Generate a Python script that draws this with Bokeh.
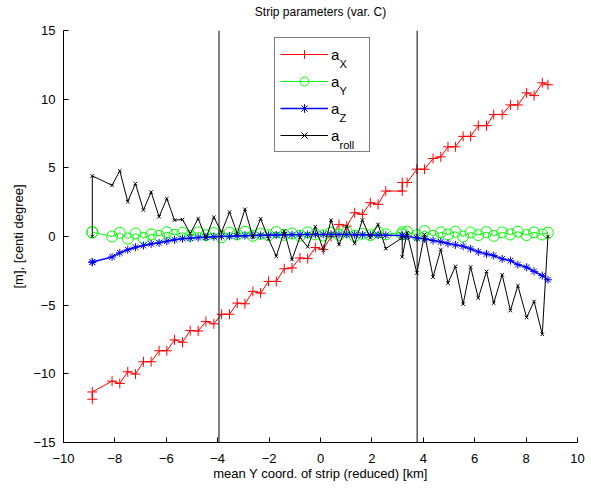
from bokeh.plotting import figure
from bokeh.models import Range1d, Span, Legend, LegendItem, Label, FixedTicker
from bokeh.core.properties import value
from bokeh.embed import file_html
from bokeh.resources import INLINE

# ---- data ----
x_ticks = [-10, -8, -6, -4, -2, 0, 2, 4, 6, 8, 10]
y_ticks = [-15, -10, -5, 0, 5, 10, 15]
boundaries = [-3.95, 3.76]

x = [-8.88, -8.88,
     -8.11, -7.81, -7.50, -7.20, -6.89, -6.59, -6.28, -5.98, -5.68, -5.37,
     -5.07, -4.76, -4.46, -4.15, -3.85, -3.54, -3.24, -2.94, -2.63, -2.33,
     -2.02, -1.72, -1.41, -1.11, -0.80, -0.50, -0.20, 0.11, 0.41, 0.72,
     1.02, 1.33, 1.63, 1.94, 2.24, 2.54,
     3.18, 3.18, 3.37, 3.75, 4.05, 4.38, 4.68, 4.96, 5.25, 5.55, 5.84,
     6.14, 6.46, 6.74, 7.07, 7.39, 7.68, 8.02, 8.31, 8.63, 8.85]

a_x = [-11.85, -11.32,
       -10.53, -10.70, -9.85, -10.02, -9.12, -9.12, -8.32, -8.32, -7.53, -7.70,
       -6.85, -6.88, -6.19, -6.36, -5.66, -5.66, -4.85, -4.90, -4.00, -4.12,
       -3.27, -3.27, -2.35, -2.29, -1.56, -1.61, -0.80, -0.95, 0.00, 0.88,
       0.75, 1.73, 1.61, 2.46, 2.34, 3.31,
       3.31, 3.93, 3.93, 4.90, 4.90, 5.68, 5.80, 6.53, 6.53, 7.29, 7.29,
       8.07, 8.07, 8.88, 8.88, 9.58, 9.58, 10.46, 10.26, 11.19, 11.05]

a_y = [0.30, 0.32,
       0.00, 0.27, -0.15, 0.22, -0.10, 0.15, 0.05, 0.31, 0.12, 0.27,
       0.05, 0.30, 0.10, 0.25, -0.05, 0.28, 0.15, 0.35, 0.05, 0.20,
       0.10, 0.32, 0.12, 0.22, 0.05, 0.30, 0.15, 0.08, 0.28, 0.12,
       0.35, 0.05, 0.20, 0.10, 0.30, 0.15,
       0.30, 0.15, 0.35, 0.10, 0.40, 0.05, 0.30, 0.15, 0.35, 0.00, 0.30,
       0.10, 0.32, 0.05, 0.30, 0.15, 0.35, 0.10, 0.30, 0.15, 0.28]

a_z = [-1.88, -1.85,
       -1.49, -1.19, -0.97, -0.78, -0.66, -0.54, -0.46, -0.34, -0.24, -0.16,
       -0.12, -0.08, -0.05, -0.02, 0.00, 0.02, 0.04, 0.06, 0.08, 0.09,
       0.10, 0.11, 0.12, 0.13, 0.14, 0.14, 0.15, 0.15, 0.15, 0.14,
       0.14, 0.13, 0.12, 0.11, 0.10, 0.09,
       0.07, 0.07, 0.02, -0.10, -0.17, -0.29, -0.39, -0.51, -0.61, -0.71, -0.90,
       -1.12, -1.27, -1.39, -1.63, -1.76, -2.05, -2.24, -2.54, -2.85, -3.15]

a_roll = [0.00, 4.41,
          3.73, 4.78, 2.54, 3.85, 1.93, 3.24, 1.44, 2.76, 1.19, 1.24,
          0.22, 1.30, -0.10, 1.40, 0.32, 1.78, 0.22, 1.98, -0.05, 1.29,
          -0.17, -1.44, 0.39, -1.68, -0.05, -0.75, 0.71, -1.00, 1.19, -0.59,
          0.75, -0.51, 1.19, -0.10, 0.88, -0.88,
          -0.10, -1.49, 0.27, -2.66, 0.15, -2.95, -0.95, -3.39, -2.17, -4.92, -2.22,
          -4.48, -2.54, -4.85, -2.78, -5.39, -3.58, -5.90, -4.73, -7.12, 0.00]

series = [
    ("X", a_x, "#ff0000", "cross", 10, 1.0),
    ("Y", a_y, "#00ff00", "circle", 11, 1.0),
    ("Z", a_z, "#0000ff", "asterisk", 8, 1.5),
    ("roll", a_roll, "#000000", "x", 5, 1.0),
]

FONT = "Liberation Sans"

p = figure(width=591, height=488, output_backend="svg", toolbar_location=None,
           x_range=Range1d(-10, 10), y_range=Range1d(-15, 15),
           min_border_left=63, min_border_right=14, min_border_top=30, min_border_bottom=46)
p.background_fill_color = "white"
p.border_fill_color = "white"
p.outline_line_color = None
p.xgrid.visible = False
p.ygrid.visible = False

# trailing empty line lifts the title a little higher above the frame
p.title.text = "Strip parameters (var. C)\n"
p.title.text_line_height = 0.7
p.title.align = "center"
p.title.text_font = FONT
p.title.text_font_size = "12px"
p.title.text_font_style = "normal"
p.title.text_color = "black"
p.title.standoff = 3

xa = p.xaxis[0]
ya = p.yaxis[0]
xa.ticker = FixedTicker(ticks=x_ticks)
ya.ticker = FixedTicker(ticks=y_ticks)
for ax in (xa, ya):
    ax.major_tick_in = 5
    ax.major_tick_out = 0
    ax.minor_tick_line_color = None
    ax.axis_line_color = "black"
    ax.major_tick_line_color = "black"
    ax.major_label_text_font = FONT
    ax.major_label_text_font_size = "13px"
    ax.major_label_text_color = "black"
    ax.axis_label_text_font = FONT
    ax.axis_label_text_font_size = "13px"
    ax.axis_label_text_font_style = "normal"
    ax.axis_label_text_color = "black"
xa.major_label_standoff = 11
ya.major_label_standoff = 8
xa.axis_label = "mean Y coord. of strip (reduced) [km]"
ya.axis_label = "[m], [centi degree]"
xa.axis_label_standoff = 0
ya.axis_label_standoff = 4

for b in boundaries:
    p.add_layout(Span(location=b, dimension="height", line_color="black", line_width=1))

items = []
for name, ys, color, marker, size, lw in series:
    r1 = p.line(x, ys, line_color=color, line_width=lw)
    if marker == "circle":
        r2 = p.scatter(x, ys, marker=marker, size=size, line_color=color,
                       fill_color=None, line_width=1)
    else:
        r2 = p.scatter(x, ys, marker=marker, size=size, line_color=color, line_width=1)
    items.append(LegendItem(label=value("a"), renderers=[r1, r2]))

legend = Legend(items=items, location=(211, 290), orientation="vertical",
                glyph_width=48, glyph_height=22, label_height=22, spacing=5,
                padding=5, margin=0, label_standoff=3, label_width=33,
                border_line_color="black", border_line_width=1,
                background_fill_color=None, background_fill_alpha=0.0,
                label_text_font=FONT, label_text_font_size="15px",
                label_text_color="black")
p.add_layout(legend, "center")

sub_y = [12.55, 10.58, 8.61, 6.64]
for (name, *_), yy in zip(series, sub_y):
    p.add_layout(Label(x=0.74, y=yy, text=name, text_font=FONT,
                       text_font_size="11px", text_color="black",
                       text_baseline="alphabetic", text_align="left"))

open("out.html", "w").write(file_html(p, INLINE))
